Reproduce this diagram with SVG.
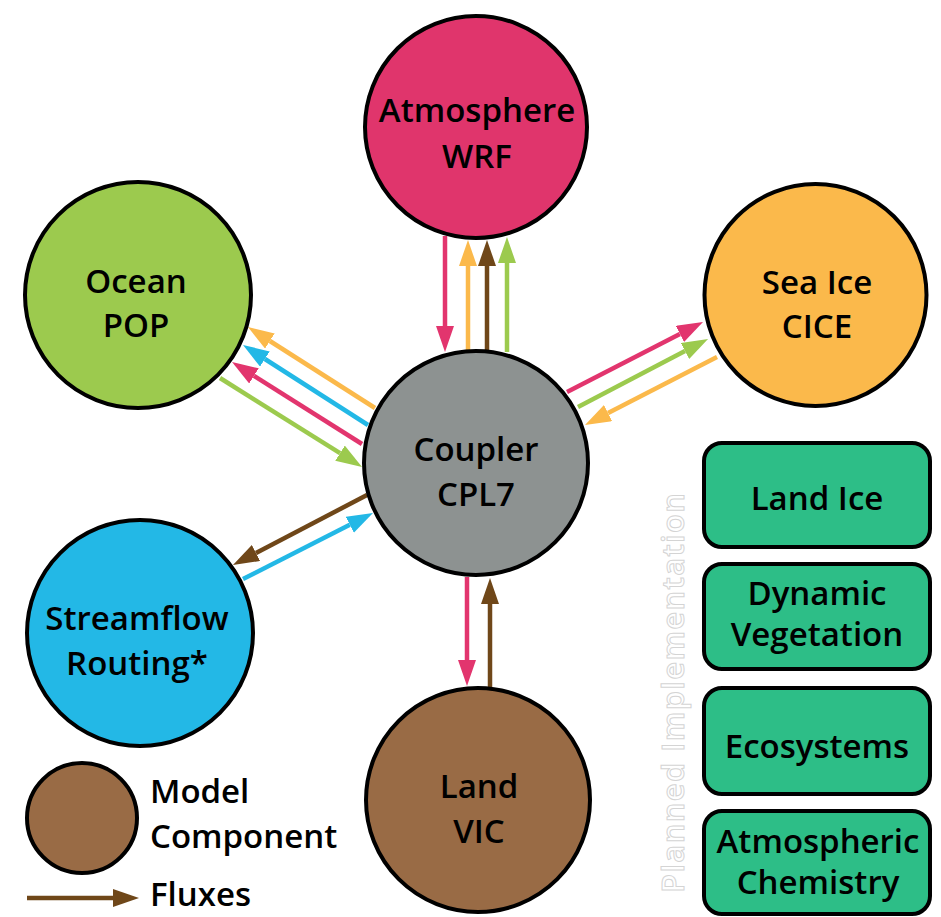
<svg xmlns="http://www.w3.org/2000/svg" width="941" height="917" viewBox="0 0 941 917">
<defs>
<style>
.node{stroke:#000;stroke-width:4}
.lbl{font-family:"Open Sans","Liberation Sans",sans-serif;font-weight:600;font-size:33px;fill:#000;text-anchor:middle}
.leg{font-family:"Open Sans","Liberation Sans",sans-serif;font-weight:600;font-size:33px;fill:#000}
.f{fill:none;stroke-width:4.5;stroke-linecap:butt}
.pk{stroke:#E2356E}.or{stroke:#FBB94B}.bl{stroke:#23B8E6}.gr{stroke:#9CCA4E}.br{stroke:#6F4719}
.planned{font-family:"Open Sans","Liberation Sans",sans-serif;font-weight:600;font-size:31px;fill:#fff;stroke:#d4d4d4;stroke-width:1;text-anchor:middle}
</style>
<marker id="hpk" markerUnits="userSpaceOnUse" markerWidth="28" markerHeight="20" refX="0" refY="9" orient="auto" viewBox="0 0 28 20"><path d="M0,0 L26,9 L0,18 z" fill="#E2356E"/></marker>
<marker id="hor" markerUnits="userSpaceOnUse" markerWidth="28" markerHeight="20" refX="0" refY="9" orient="auto" viewBox="0 0 28 20"><path d="M0,0 L26,9 L0,18 z" fill="#FBB94B"/></marker>
<marker id="hbl" markerUnits="userSpaceOnUse" markerWidth="28" markerHeight="20" refX="0" refY="9" orient="auto" viewBox="0 0 28 20"><path d="M0,0 L26,9 L0,18 z" fill="#23B8E6"/></marker>
<marker id="hgr" markerUnits="userSpaceOnUse" markerWidth="28" markerHeight="20" refX="0" refY="9" orient="auto" viewBox="0 0 28 20"><path d="M0,0 L26,9 L0,18 z" fill="#9CCA4E"/></marker>
<marker id="hbr" markerUnits="userSpaceOnUse" markerWidth="28" markerHeight="20" refX="0" refY="9" orient="auto" viewBox="0 0 28 20"><path d="M0,0 L26,9 L0,18 z" fill="#6F4719"/></marker>
</defs>
<rect width="941" height="917" fill="#fff"/>

<g id="connectors">
<!-- Atmosphere <-> Coupler -->
<line class="f pk" x1="445" y1="236" x2="445" y2="326" marker-end="url(#hpk)"/>
<line class="f or" x1="468" y1="350" x2="468" y2="266" marker-end="url(#hor)"/>
<line class="f br" x1="487" y1="350" x2="487" y2="266" marker-end="url(#hbr)"/>
<line class="f gr" x1="507" y1="352" x2="507" y2="263" marker-end="url(#hgr)"/>
<!-- Ocean <-> Coupler -->
<line class="f or" x1="375" y1="408" x2="269.9" y2="341" marker-end="url(#hor)"/>
<line class="f bl" x1="368" y1="425" x2="264.9" y2="359" marker-end="url(#hbl)"/>
<line class="f pk" x1="362" y1="444" x2="254" y2="375.9" marker-end="url(#hpk)"/>
<line class="f gr" x1="220" y1="378" x2="340" y2="453.2" marker-end="url(#hgr)"/>
<!-- Sea Ice <-> Coupler -->
<line class="f pk" x1="567" y1="392" x2="679.9" y2="333.9" marker-end="url(#hpk)"/>
<line class="f gr" x1="578" y1="407" x2="685" y2="351.1" marker-end="url(#hgr)"/>
<line class="f or" x1="717" y1="357" x2="608.1" y2="413.1" marker-end="url(#hor)"/>
<!-- Streamflow <-> Coupler -->
<line class="f br" x1="367" y1="495" x2="256" y2="553" marker-end="url(#hbr)"/>
<line class="f bl" x1="243" y1="579" x2="349.8" y2="524.8" marker-end="url(#hbl)"/>
<!-- Land <-> Coupler -->
<line class="f pk" x1="467" y1="577" x2="467" y2="660" marker-end="url(#hpk)"/>
<line class="f br" x1="490" y1="687" x2="490" y2="604" marker-end="url(#hbr)"/>
<!-- legend -->
<line class="f br" x1="27" y1="898" x2="113" y2="898" marker-end="url(#hbr)"/>
</g>

<g id="atmosphere">
<circle class="node" cx="476" cy="127" r="111" fill="#E0356C"/>
<text class="lbl" x="477" y="122">Atmosphere</text>
<text class="lbl" x="477" y="168">WRF</text>
</g>
<g id="ocean">
<circle class="node" cx="138" cy="295" r="113" fill="#9CCA4E"/>
<text class="lbl" x="136" y="293">Ocean</text>
<text class="lbl" x="136" y="337">POP</text>
</g>
<g id="seaice">
<circle class="node" cx="815.5" cy="295" r="111" fill="#FBB94B"/>
<text class="lbl" x="817" y="294">Sea Ice</text>
<text class="lbl" x="817" y="338">CICE</text>
</g>
<g id="coupler">
<circle class="node" cx="476" cy="463" r="112" fill="#8D9291"/>
<text class="lbl" x="476" y="461">Coupler</text>
<text class="lbl" x="476" y="506">CPL7</text>
</g>
<g id="streamflow">
<circle class="node" cx="140" cy="633" r="113" fill="#23B8E6"/>
<text class="lbl" x="137" y="630">Streamflow</text>
<text class="lbl" x="137" y="675">Routing*</text>
</g>
<g id="land">
<circle class="node" cx="478" cy="800" r="112" fill="#996B45"/>
<text class="lbl" x="479" y="798">Land</text>
<text class="lbl" x="479" y="843">VIC</text>
</g>

<g id="landice">
<rect class="node" x="704" y="443" width="226" height="104" rx="18" fill="#2DBE87"/>
<text class="lbl" x="817" y="510">Land Ice</text>
</g>
<g id="dynveg">
<rect class="node" x="704" y="564" width="226" height="105" rx="18" fill="#2DBE87"/>
<text class="lbl" x="817" y="605">Dynamic</text>
<text class="lbl" x="817" y="646">Vegetation</text>
</g>
<g id="ecosystems">
<rect class="node" x="704" y="688" width="226" height="106" rx="18" fill="#2DBE87"/>
<text class="lbl" x="817" y="758">Ecosystems</text>
</g>
<g id="atmchem">
<rect class="node" x="704" y="811" width="226" height="103" rx="18" fill="#2DBE87"/>
<text class="lbl" x="818" y="853">Atmospheric</text>
<text class="lbl" x="818" y="894">Chemistry</text>
</g>

<text class="planned" transform="translate(684,693) rotate(-90)" textLength="400" lengthAdjust="spacing">Planned Implementation</text>

<g id="legend">
<circle class="node" cx="82" cy="818" r="55" fill="#996B45"/>
<text class="leg" x="150" y="803">Model</text>
<text class="leg" x="150" y="848">Component</text>
<text class="leg" x="150" y="906">Fluxes</text>
</g>
</svg>
